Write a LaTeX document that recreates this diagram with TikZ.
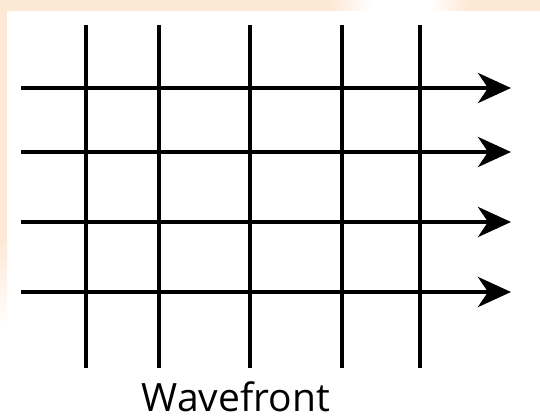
\documentclass[tikz,border=0pt]{standalone}
\usepackage{fontspec}
\setmainfont{Open Sans}
\usetikzlibrary{arrows.meta}
\definecolor{peach}{HTML}{FDE8D6}
\begin{document}
\begin{tikzpicture}[x=1pt,y=-1pt,
  wline/.style={line width=4.5pt,black},
  ray/.style={line width=4.5pt,black,-{Stealth[length=33pt,width=30pt,inset=10pt]}},
  label/.style={font=\fontsize{39}{42}\selectfont,anchor=base,inner sep=0pt}]
\useasboundingbox (0,0) rectangle (540,417);
\fill[white] (0,0) rectangle (540,417);
% peach frame remnants
\fill[peach] (0,0) rectangle (331,11);
\fill[peach] (469,0) rectangle (540,11);
\shade[left color=peach,right color=white,shading=axis] (330,0) rectangle (371,11);
\fill[white] (370,0) rectangle (431,11);
\shade[left color=white,right color=peach,shading=axis] (430,0) rectangle (470,11);
\fill[peach] (0,0) rectangle (7,241);
\shade[top color=peach,bottom color=white] (0,240) rectangle (7,330);
% vertical wavefront lines
\foreach \n/\x in {1/86,2/159,3/250,4/342,5/420}{
  \coordinate (t\n) at (\x,25);
  \coordinate (b\n) at (\x,368);
  \draw[wline] (t\n) -- (b\n);
}
% rays
\foreach \n/\y in {1/88,2/152,3/222,4/292}{
  \coordinate (s\n) at (21,\y);
  \coordinate (e\n) at (511,\y);
  \draw[ray] (s\n) -- (e\n);
}
\node[label] (lbl) at (236,411) {Wavefront};
\end{tikzpicture}
\end{document}
